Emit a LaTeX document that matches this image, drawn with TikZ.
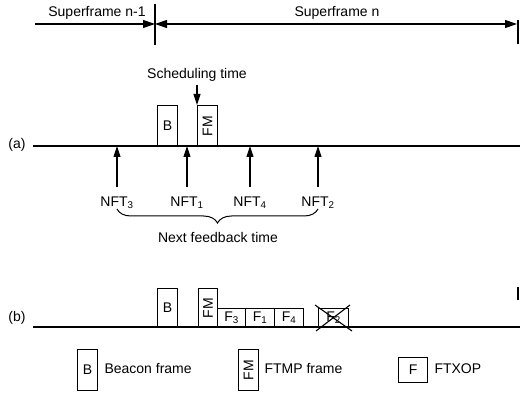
\documentclass[tikz,border=0pt]{standalone}
\usepackage{fontspec}
\setmainfont{Liberation Sans}
\usetikzlibrary{arrows.meta,decorations.pathreplacing}
\begin{document}
\begin{tikzpicture}[x=1pt,y=-1pt, line width=1.1pt,
  lbl/.style={font=\fontsize{14}{16}\selectfont, inner sep=0pt},
  frm/.style={draw, line width=1.1pt, inner sep=0pt, anchor=north west, font=\fontsize{14}{16}\selectfont},
  toparr/.style={-{Triangle[length=12pt,width=8pt]}},
  bothtop/.style={{Triangle[length=12pt,width=8pt]}-{Triangle[length=12pt,width=8pt]}},
  uparr/.style={-{Triangle[length=11pt,width=7pt]}}]
\useasboundingbox (0,0) rectangle (520,393);
% top superframe arrows
\coordinate (s0) at (35,24);
\coordinate (s1) at (155,24);
\coordinate (s2) at (517,24);
\coordinate (v1t) at (155,4); \coordinate (v1b) at (155,45);
\coordinate (v2t) at (518,20); \coordinate (v2b) at (518,44);
\draw[toparr] (s0) -- (s1);
\draw[bothtop] (s1) -- (s2);
\draw (v1t) -- (v1b);
\draw (v2t) -- (v2b);
\node[lbl] (sfn1) at (97,13) {Superframe n-1};
\node[lbl] (sfn) at (337,13) {Superframe n};
% (a)
\node[lbl] (la) at (17,145) {(a)};
\coordinate (aL) at (33,146); \coordinate (aR) at (520,146);
\draw (aL) -- (aR);
\node[frm, minimum width=20pt, minimum height=41pt] (aB) at (157,105) {B};
\node[frm, minimum width=20pt, minimum height=41pt] (aFM) at (197,105) {\rotatebox{90}{FM}};
\node[lbl] (sched) at (197,75) {Scheduling time};
\coordinate (schedt) at (197,85);
\draw[uparr] (schedt) -- (aFM.north west);
\foreach \n/\x/\s in {3/117/3,1/187/1,4/250/4,2/318/2}{
  \coordinate (nb\n) at (\x,187);
  \coordinate (nt\n) at (\x,146);
  \draw[uparr] (nb\n) -- (nt\n);
  \node[lbl] (nft\n) at (\x,203) {NFT\textsubscript{\s}};
}
\coordinate (brR) at (318,209); \coordinate (brL) at (117,209);
\draw[line width=1pt, decorate, decoration={brace, amplitude=14pt}] (brR) -- (brL);
\node[lbl] (nft) at (218,237) {Next feedback time};
% (b)
\node[lbl] (lb) at (17,318) {(b)};
\coordinate (bL) at (33,327); \coordinate (bR) at (520,327);
\draw (bL) -- (bR);
\coordinate (v3t) at (518,287); \coordinate (v3b) at (518,300);
\draw (v3t) -- (v3b);
\node[frm, minimum width=20pt, minimum height=39pt] (bB) at (157,288) {B};
\node[frm, minimum width=19pt, minimum height=39pt] (bFM) at (198,288) {\rotatebox{90}{FM}};
\node[frm, minimum width=28pt, minimum height=19pt] (bF3) at (217,308) {F\textsubscript{3}};
\node[frm, minimum width=29pt, minimum height=19pt] (bF1) at (245,308) {F\textsubscript{1}};
\node[frm, minimum width=29pt, minimum height=19pt] (bF4) at (274,308) {F\textsubscript{4}};
\node[frm, minimum width=30pt, minimum height=19pt] (bF2) at (318,308) {F\textsubscript{2}};
\coordinate (x1) at (315,305); \coordinate (x2) at (352,331);
\coordinate (x3) at (350,305); \coordinate (x4) at (316,331);
\draw (x1) -- (x2);
\draw (x3) -- (x4);
% legend
\node[frm, minimum width=20pt, minimum height=41pt] (gB) at (77,349) {B};
\node[lbl, anchor=west] (tB) at (104,369) {Beacon frame};
\node[frm, minimum width=20pt, minimum height=41pt] (gFM) at (238,349) {\rotatebox{90}{FM}};
\node[lbl, anchor=west] (tFM) at (264,369) {FTMP frame};
\node[frm, minimum width=29pt, minimum height=25pt] (gF) at (398,357) {F};
\node[lbl, anchor=west] (tF) at (434,369) {FTXOP};
\end{tikzpicture}
\end{document}
